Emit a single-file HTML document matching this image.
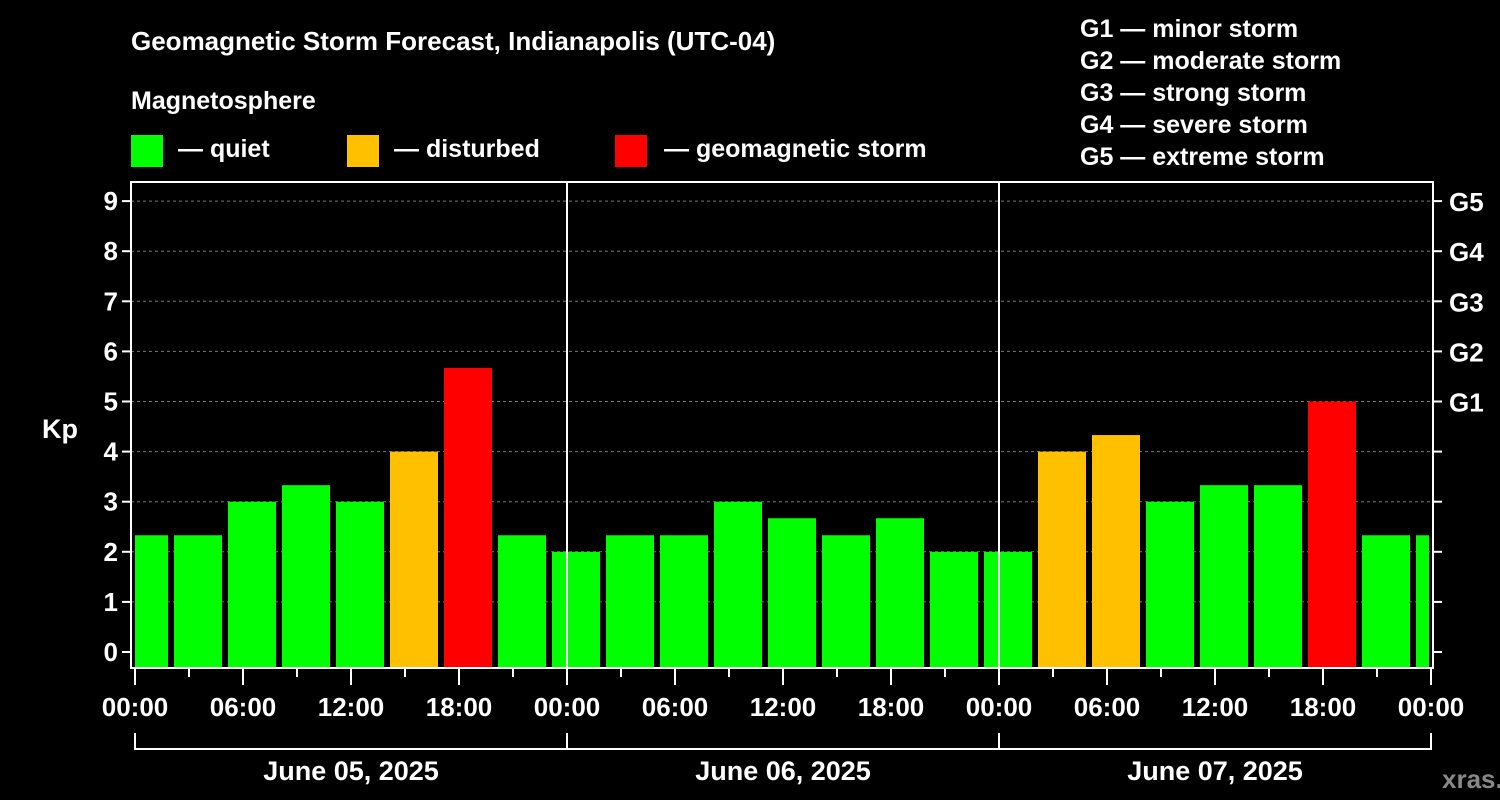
<!DOCTYPE html>
<html><head><meta charset="utf-8"><style>
html,body{margin:0;padding:0;background:#000;}
svg{display:block;font-family:"Liberation Sans",Arial,sans-serif;font-weight:bold;}
</style></head><body>
<svg id="chart" width="1500" height="800" viewBox="0 0 1500 800">
<rect width="1500" height="800" fill="#000"/>
<text x="131" y="50" fill="#fff" font-size="26">Geomagnetic Storm Forecast, Indianapolis (UTC-04)</text>
<text x="131" y="109" fill="#fff" font-size="25">Magnetosphere</text>
<g><rect x="131" y="135" width="32" height="32" fill="#00ff00"/><text x="178" y="157" fill="#fff" font-size="25">— quiet</text></g>
<g><rect x="347" y="135" width="32" height="32" fill="#ffc000"/><text x="394" y="157" fill="#fff" font-size="25">— disturbed</text></g>
<g><rect x="615" y="135" width="32" height="32" fill="#ff0000"/><text x="664" y="157" fill="#fff" font-size="25">— geomagnetic storm</text></g>
<g fill="#fff" font-size="25">
<text x="1080" y="37">G1 — minor storm</text>
<text x="1080" y="69">G2 — moderate storm</text>
<text x="1080" y="101">G3 — strong storm</text>
<text x="1080" y="133">G4 — severe storm</text>
<text x="1080" y="165">G5 — extreme storm</text>
</g>
<text x="42" y="438" fill="#fff" font-size="27">Kp</text>
<text x="1442" y="788" fill="#888" font-size="26">xras.ru</text>
<defs><clipPath id="pc"><rect x="135" y="182" width="1294" height="486"/></clipPath></defs>
<g id="grid"></g>
<g id="bars" clip-path="url(#pc)"></g>
<g id="axes"></g>
</svg>
<script>
const kpValues = [2.33,2.33,3,3.33,3,4,5.67,2.33, 2,2.33,2.33,3,2.67,2.33,2.67,2, 2,4,4.33,3,3.33,3.33,5,2.33,2.33];
const yTicks = [0,1,2,3,4,5,6,7,8,9];
const gLabels = ["G1","G2","G3","G4","G5"];
const hourLabels = ["00:00","06:00","12:00","18:00"];
const dayLabels = ["June 05, 2025","June 06, 2025","June 07, 2025"];
const NS="http://www.w3.org/2000/svg";
const X0=135, PX_H=18, Y0=652, PX_K=50.1, TOP=182, BOT=668, LEFT=131, RIGHT=1433;
const x = h => X0 + h*PX_H;
const y = k => Y0 - k*PX_K;
function el(tag, attrs, parent){const e=document.createElementNS(NS,tag);for(const k in attrs)e.setAttribute(k,attrs[k]);parent.appendChild(e);return e;}
const grid=document.getElementById('grid'), bars=document.getElementById('bars'), axes=document.getElementById('axes');
yTicks.forEach(k=>{
  if(k>0){const g=el('line',{x1:LEFT,x2:RIGHT,y1:y(k),y2:y(k),stroke:'#777','stroke-dasharray':'3,3','stroke-width':1},grid);
  
  }
  const t=el('line',{x1:LEFT-9,x2:LEFT,y1:y(k),y2:y(k),stroke:'#fff','stroke-width':2},axes);
  
  
  const l=el('text',{x:LEFT-13,y:y(k)+9,fill:'#fff','font-size':26,'text-anchor':'end'},axes);l.textContent=k;
  
  
  const rt=el('line',{x1:RIGHT,x2:RIGHT+9,y1:y(k),y2:y(k),stroke:'#fff','stroke-width':2},axes);
  
  
  if(k>=5){const g=el('text',{x:1449,y:y(k)+10,fill:'#fff','font-size':26},axes);g.textContent=gLabels[k-5];
  
  }
});
kpValues.forEach((v,i)=>{
  const c = -0.5 + i*3 + 1;
  const col = v>=5 ? '#ff0000' : (v>=4 ? '#ffc000' : '#00ff00');
  const r=el('rect',{x:x(c)-24,y:y(v),width:48,height:BOT-y(v),fill:col},bars);
  
  
});
const fr=el('rect',{x:LEFT,y:TOP,width:RIGHT-LEFT,height:BOT-TOP,fill:'none',stroke:'#fff','stroke-width':2},axes);


for(let d=1;d<3;d++){const s=el('line',{x1:x(d*24),x2:x(d*24),y1:TOP,y2:BOT,stroke:'#fff','stroke-width':2},axes);
  
  }
for(let h=0;h<=72;h+=3){
  const long=h%6===0;
  const t=el('line',{x1:x(h),x2:x(h),y1:BOT,y2:BOT+(long?17:9),stroke:'#fff','stroke-width':2},axes);
  
  
  if(long){const l=el('text',{x:x(h),y:716,fill:'#fff','font-size':26,'text-anchor':'middle'},axes);l.textContent=hourLabels[(h/6)%4];
  
  }
}
const br=el('path',{d:`M${x(0)},733 V749 H${x(72)} V733 M${x(24)},733 V749 M${x(48)},733 V749`,stroke:'#fff','stroke-width':2,fill:'none'},axes);


dayLabels.forEach((d,i)=>{const l=el('text',{x:x(i*24+12),y:780,fill:'#fff','font-size':27,'text-anchor':'middle'},axes);l.textContent=d;
  
  });
</script>
</body></html>
